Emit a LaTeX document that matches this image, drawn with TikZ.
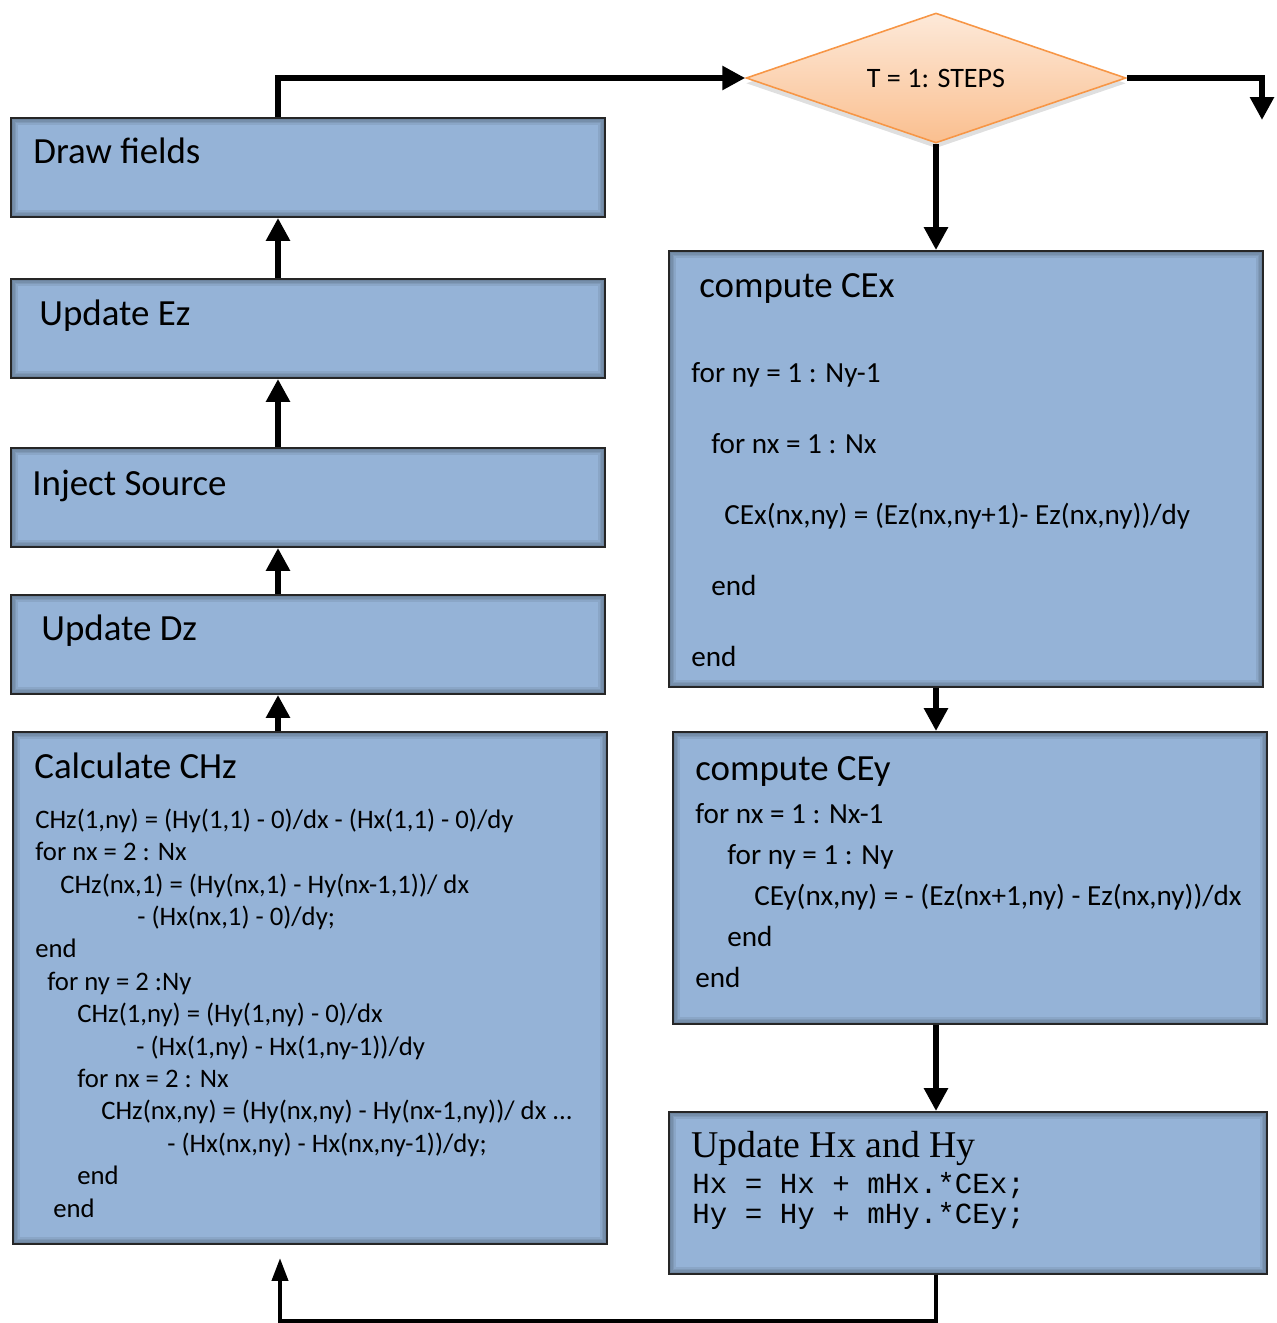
\documentclass[tikz,border=0pt]{standalone}
\usepackage{fontspec}
\setmainfont{Carlito}
\setmonofont{Liberation Mono}
\newfontfamily\titleserif{Liberation Serif}
\usetikzlibrary{arrows.meta,positioning,calc,shapes.geometric,shadows}
\definecolor{BoxBlue}{HTML}{95B3D7}
\definecolor{BoxEdge}{HTML}{262626}
\definecolor{LoopTop}{HTML}{FDE9D9}
\definecolor{LoopBottom}{HTML}{FABF8F}
\definecolor{LoopEdge}{HTML}{F79646}
\newlength{\pxlen}
\setlength{\pxlen}{0.02cm}
\newcommand{\indentpx}[1]{\hspace*{#1\pxlen}}
\tikzset{
  stepbox/.style={draw=BoxEdge, fill=BoxBlue, line width=1.1pt, inner sep=0pt,
                  minimum width=11.88cm,
                  path picture={\foreach \w in {2,4,6,8}
                    \draw[black, opacity=0.07, line width=\w pt]
                      (path picture bounding box.south west) rectangle
                      (path picture bounding box.north east);}},
  decision/.style={diamond, aspect=2.9, draw=LoopEdge, line width=0.9pt, inner sep=0pt,
                   minimum width=7.6cm, minimum height=2.6cm,
                   top color=LoopTop, bottom color=LoopBottom,
                   drop shadow={opacity=0.25, shadow xshift=0pt, shadow yshift=-3pt},
                   font=\fontsize{16}{19}\selectfont},
  boxtitle/.style={anchor=base west, inner sep=0pt, font=\fontsize{21}{25}\selectfont},
  % base of a multi-line node = baseline of its last line
  codetext/.style={anchor=base west, inner sep=0pt, align=left},
  flow/.style={-{Triangle[length=13pt,width=13pt]}, line width=3.4pt},
  loopflow/.style={-{Triangle[length=13pt,width=9pt]}, line width=2.4pt},
}

\begin{document}
\begin{tikzpicture}[x=0.02cm, y=-0.02cm]
  \useasboundingbox (0,0) rectangle (1277,1323);

  % left column, bottom to top in the loop
  \node[stepbox, minimum height=1.98cm] (df) at (308,167.5) {};
  \node[stepbox, minimum height=1.98cm] (ez) at (308,328.5) {};
  \node[stepbox, minimum height=1.98cm] (inj) at (308,497.5) {};
  \node[stepbox, minimum height=1.98cm] (dz) at (308,644.5) {};
  \node[stepbox, minimum height=10.24cm] (chz) at (310,988) {};

  % right column
  \node[decision] (dm) at (936,78) {T = 1: STEPS};
  \node[stepbox, minimum height=8.72cm] (cex) at (966,469) {};
  \node[stepbox, minimum height=5.84cm] (cey) at (970,878) {};
  \node[stepbox, minimum width=11.96cm, minimum height=3.24cm] (hxy) at (968,1193) {};

  % titles
  \node[boxtitle] (df-t) at (33,163) {Draw fields};
  \node[boxtitle] (ez-t) at (39,325) {Update Ez};
  \node[boxtitle] (inj-t) at (32,495) {Inject Source};
  \node[boxtitle] (dz-t) at (41,640) {Update Dz};
  \node[boxtitle] (chz-t) at (34,778) {Calculate CHz};
  \node[boxtitle] (cex-t) at (699,297) {compute CEx};
  \node[boxtitle] (cey-t) at (695,780) {compute CEy};
  \node[boxtitle, font=\titleserif\fontsize{21.5}{25}\selectfont] (hxy-t) at (691,1157)
    {Update Hx and Hy};

  % loop bodies
  \node[codetext, font=\fontsize{15.2}{18.43}\selectfont] (chz-c) at (35,1217)
    {CHz(1,ny) = (Hy(1,1) - 0)/dx - (Hx(1,1) - 0)/dy\\
     for nx = 2 : Nx\\
     \indentpx{25}CHz(nx,1) = (Hy(nx,1) - Hy(nx-1,1))/ dx\\
     \indentpx{102}- (Hx(nx,1) - 0)/dy;\\
     end\\
     \indentpx{12}for ny = 2 :Ny\\
     \indentpx{42}CHz(1,ny) = (Hy(1,ny) - 0)/dx\\
     \indentpx{101}- (Hx(1,ny) - Hx(1,ny-1))/dy\\
     \indentpx{42}for nx = 2 : Nx\\
     \indentpx{66}CHz(nx,ny) = (Hy(nx,ny) - Hy(nx-1,ny))/ dx ...\\
     \indentpx{132}- (Hx(nx,ny) - Hx(nx,ny-1))/dy;\\
     \indentpx{42}end\\
     \indentpx{18}end};
  \node[codetext, font=\fontsize{16.6}{40.3}\selectfont] (cex-c) at (691,666)
    {for ny = 1 : Ny-1\\
     \indentpx{20}for nx = 1 : Nx\\
     \indentpx{33}CEx(nx,ny) = (Ez(nx,ny+1)- Ez(nx,ny))/dy\\
     \indentpx{20}end\\
     end};
  \node[codetext, font=\fontsize{16.6}{23.2}\selectfont] (cey-c) at (695,987)
    {for nx = 1 : Nx-1\\
     \indentpx{32}for ny = 1 : Ny\\
     \indentpx{59}CEy(nx,ny) = - (Ez(nx+1,ny) - Ez(nx,ny))/dx\\
     \indentpx{32}end\\
     end};
  \node[codetext, font=\ttfamily\fontsize{16.6}{17}\selectfont] (hxy-c) at (692,1223)
    {Hx = Hx + mHx.*CEx;\\
     Hy = Hy + mHy.*CEy;};

  % connectors
  \coordinate (lx) at (278,0);
  \coordinate (outend) at (1262,120);
  \coordinate (loopend) at (280,1258);
  \draw[flow] (df.north -| lx) |- (dm.west);
  \draw[flow] (dm.east) -| (outend);
  \draw[flow] (dm.south) -- (cex.north -| dm.south);
  \draw[flow] (cex.south -| dm.south) -- (cey.north -| dm.south);
  \draw[flow] (cey.south -| dm.south) -- (hxy.north -| dm.south);
  \draw[loopflow] (hxy.south -| dm.south) -- ++(0,46) -| (loopend);
  \draw[flow] (chz.north -| lx) -- (dz.south -| lx);
  \draw[flow] (dz.north -| lx) -- (inj.south -| lx);
  \draw[flow] (inj.north -| lx) -- (ez.south -| lx);
  \draw[flow] (ez.north -| lx) -- (df.south -| lx);
\end{tikzpicture}
\end{document}
